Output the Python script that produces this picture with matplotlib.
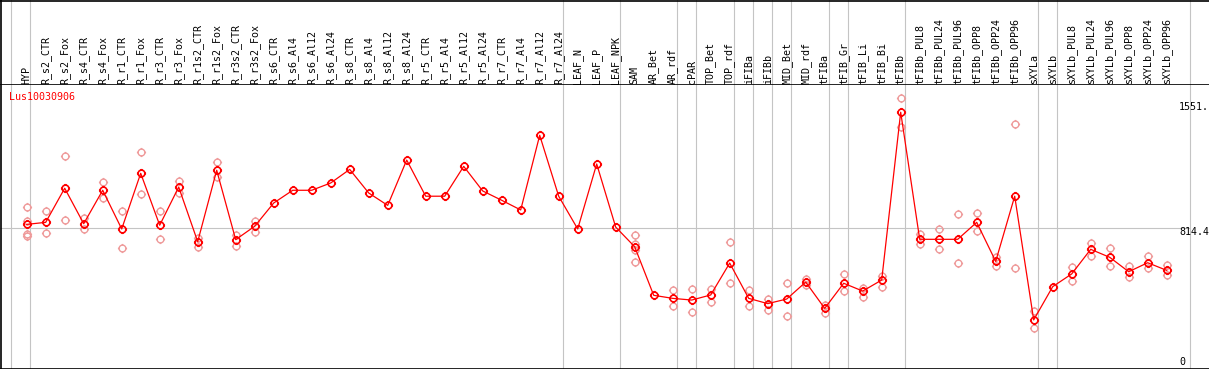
import numpy as np
import matplotlib
matplotlib.use("Agg")
import matplotlib.pyplot as plt
from matplotlib.path import Path

# ---------------- data ----------------
gene = "Lus10030906"
categories = ["HYP", "R_s2_CTR", "R_s2_Fox", "R_s4_CTR", "R_s4_Fox", "R_r1_CTR", "R_r1_Fox",
              "R_r3_CTR", "R_r3_Fox", "R_r1s2_CTR", "R_r1s2_Fox", "R_r3s2_CTR", "R_r3s2_Fox",
              "R_s6_CTR", "R_s6_Al4", "R_s6_Al12", "R_s6_Al24", "R_s8_CTR", "R_s8_Al4",
              "R_s8_Al12", "R_s8_Al24", "R_r5_CTR", "R_r5_Al4", "R_r5_Al12", "R_r5_Al24",
              "R_r7_CTR", "R_r7_Al4", "R_r7_Al12", "R_r7_Al24", "LEAF_N", "LEAF_P", "LEAF_NPK",
              "SAM", "AR_Bet", "AR_rdf", "cPAR", "TOP_Bet", "TOP_rdf", "iFIBa", "iFIBb",
              "MID_Bet", "MID_rdf", "tFIBa", "tFIB_Gr", "tFIB_Li", "tFIB_Bi", "tFIBb",
              "tFIBb_PUL8", "tFIBb_PUL24", "tFIBb_PUL96", "tFIBb_OPP8", "tFIBb_OPP24",
              "tFIBb_OPP96", "sXYLa", "sXYLb", "sXYLb_PUL8", "sXYLb_PUL24", "sXYLb_PUL96",
              "sXYLb_OPP8", "sXYLb_OPP24", "sXYLb_OPP96"]
group_sizes = [1, 28, 3, 3, 1, 2, 1, 1, 1, 2, 1, 3, 7, 1, 7]
means = [834, 846, 1047, 838, 1035, 807, 1135, 829, 1054, 732, 1153, 744, 823,
         960, 1035, 1035, 1078, 1158, 1019, 946, 1213, 1000, 1000, 1176, 1031, 976,
         919, 1359, 1000, 807, 1190, 818, 702, 416, 398, 388, 418, 606, 398, 367,
         394, 494, 339, 487, 441, 506, 1495, 746, 746, 746, 846, 616, 1000, 271,
         467, 542, 687, 640, 555, 608, 563]
replicates = [[935, 856, 776, 766], [913, 781], [1235, 858], [873, 807], [1082, 988],
              [911, 693], [1259, 1011], [911, 748], [1091, 1017], [752, 703],
              [1200, 1111], [770, 707], [856, 789],
              [], [], [], [], [], [], [], [], [], [], [], [], [], [], [], [], [], [], [],
              [771, 717, 683, 611], [], [447, 355], [451, 316], [453, 375], [728, 489],
              [447, 355], [393, 329], [489, 292], [510, 477], [359, 314], [540, 441],
              [461, 408], [532, 467], [1577, 1406], [777, 717], [807, 687], [893, 605],
              [899, 793], [644, 591], [1424, 575], [322, 225], [], [583, 502],
              [723, 649], [693, 591], [587, 522], [648, 575], [595, 536]]
ref_value = 814.4
ylabels = ["1551.", "814.4", "0"]
ylabel_vals = [1551.0, 814.4, 0.0]

# ---------------- figure geometry ----------------
W, H = 1209, 370
fig = plt.figure(figsize=(W / 100, H / 100), dpi=100)
x0_px, step_px = 26.7, 19.0
xlim = (-x0_px / step_px, (W - x0_px) / step_px)
top_px, bot_px = 85, 369
ax = fig.add_axes([0, 1 - bot_px / H, 1, (bot_px - top_px) / H])
hax = fig.add_axes([0, 1 - top_px / H, 1, top_px / H], sharex=ax)
ax.set_xlim(*xlim)
ax.set_ylim(-18.3, 1655.4)
hax.set_ylim(0, 1)
for a in (ax, hax):
    a.set_axis_off()

mono = "DejaVu Sans Mono"
grey = "#c4c4c4"

# group separators
bounds = np.cumsum([0] + group_sizes) - 1 + 0.2
for b in bounds:
    ax.axvline(b, color=grey, lw=0.8, zorder=0)
    hax.axvline(b, color=grey, lw=0.8, zorder=0)

# reference line
ax.hlines(ref_value, xlim[0], bounds[-1], color=grey, lw=0.8, zorder=0)

# frame lines
for a in (ax, hax):
    a.axvline(xlim[0] + 1.5 / step_px, color="black", lw=1.2)
hax.axhline(1 - 0.5 / top_px, color="black", lw=1.2)
hax.axhline(0, color="black", lw=1.2)
ax.axhline(ax.get_ylim()[0] + 0.3 * (ax.get_ylim()[1] - ax.get_ylim()[0]) / (bot_px - top_px),
           color="black", lw=1.2)

# custom marker: circle with small stubs
circ = Path.unit_circle()
stubs = []
r1, r2 = 1.0, 1.35
for dx, dy in [(1, 0), (-1, 0), (0, 1), (0, -1)]:
    stubs.append(Path([(dx * r1, dy * r1), (dx * r2, dy * r2)], [Path.MOVETO, Path.LINETO]))
mk = Path.make_compound_path(circ, *stubs)

x = np.arange(len(categories))
rx = [i for i, r in enumerate(replicates) for _ in r]
ry = [v for r in replicates for v in r]
ax.plot(rx, ry, linestyle="none", marker=mk, markersize=6.6, mfc="none",
        mec="#ef9b9b", mew=1.0, zorder=2)
ax.plot(x, means, color="#ff0000", lw=0.9, marker=mk, markersize=6.6, mfc="none",
        mec="#ff0000", mew=1.2, zorder=3)

# category labels
for i, c in enumerate(categories):
    hax.text(i, 1.5 / top_px, c, rotation=90, ha="center", va="bottom",
             family=mono, fontsize=7.2, color="black")

# gene label
ax.text(9.3 / W, 1 - 11.7 / (bot_px - top_px), gene, transform=ax.transAxes,
        ha="left", va="center", family=mono, fontsize=7.2, color="#ff0000")

# y labels
for lab, v in zip(ylabels, ylabel_vals):
    off = -3.3 if v > 0 else 3.0
    ax.annotate(lab, xy=(1179 / W, v), xycoords=("axes fraction", "data"),
                xytext=(0, off), textcoords="offset points", ha="left", va="center",
                family=mono, fontsize=7.2, color="black", annotation_clip=False)

fig.savefig("out.png", dpi=100)
